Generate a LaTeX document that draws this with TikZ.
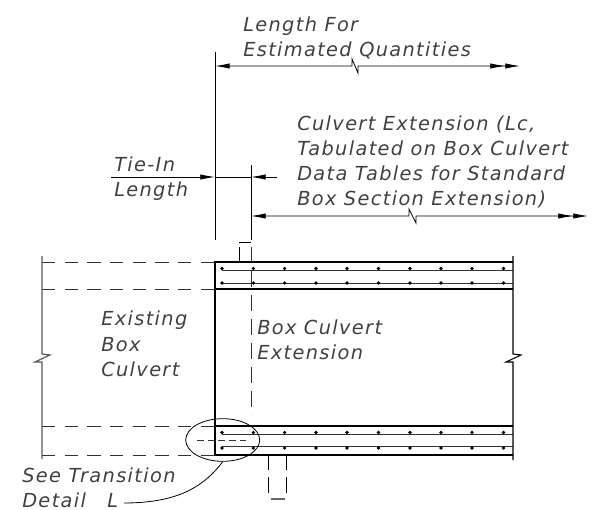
\documentclass[tikz,border=0pt]{standalone}
\usepackage{fontspec}
\setmainfont{DejaVu Sans}[LetterSpace=7,ItalicFont={DejaVu Sans Oblique}]
\usetikzlibrary{arrows.meta,shapes.geometric}
\tikzstyle{note}=[inner sep=0pt,anchor=base west,align=left,font=\fontsize{14.5}{18.7}\selectfont\itshape,text=black!75]
\tikzstyle{wall}=[line width=2pt,black]
\tikzstyle{bar}=[line width=0.6pt,black!80]
\tikzstyle{dim}=[line width=0.6pt,black]
\tikzstyle{hidden}=[line width=0.6pt,black!80,dash pattern=on 10pt off 7pt]
\tikzstyle{rebar}=[circle,fill=black,inner sep=0pt,minimum size=2.7pt]
\tikzstyle{head}=[-{Latex[length=11pt,width=4pt]}]

\begin{document}
\begin{tikzpicture}[x=0.75pt,y=-0.75pt]
	\useasboundingbox (0,0) rectangle (603,510);

	\node (quantities) at (243,32) [note] {Length For};
	\node (quantities2) at (243,57) [note] {Estimated Quantities};
	\node (extension) at (297,130) [note] {Culvert Extension (Lc,};
	\node (extension2) at (297,155) [note] {Tabulated on Box Culvert};
	\node (extension3) at (297,180) [note] {Data Tables for Standard};
	\node (extension4) at (297,205) [note] {Box Section Extension)};
	\node (tiein) at (114,171) [note] {Tie-In};
	\node (tiein2) at (114,196) [note] {Length};
	\node (existing) at (101,325) [note] {Existing};
	\node (existing2) at (101,351) [note] {Box};
	\node (existing3) at (101,376) [note] {Culvert};
	\node (newbox) at (257,334) [note] {Box Culvert};
	\node (newbox2) at (257,359) [note] {Extension};
	\node (see) at (22,482.5) [note] {See Transition};
	\node (detail) at (22,507) [note] {Detail};
	\node (detailL) at (107,507) [note] {L};

	\coordinate (a) at (215,66);
	\coordinate (b) at (505,66);
	\coordinate (c) at (251,216);
	\coordinate (d) at (573,216);

	% dimension lines
	\draw[dim] (215,52)--(215,240);
	\draw[dim] (251,165)--(251,240);
	\draw[dim,head] (b)--(358,66)--(358,73)--(352,59)--(352,66)--(a);
	\draw[dim,head] (490,66)--(b);
	\draw[dim,head] (b)--(520,66);
	\draw[dim,head] (d)--(416,216)--(416,223)--(409,209)--(409,216)--(c);
	\draw[dim,head] (558,216)--(d);
	\draw[dim,head] (d)--(588,216);
	\draw[dim,head] (111,177)--(215,177);
	\draw[dim] (215,177)--(251,177);
	\draw[dim,head] (277,177)--(251,177);

	% existing culvert
	\draw[line width=0.9pt,black!65] (42,256)--(42,354)--(50,355)--(35,362)--(42,362)--(42,459);
	\draw[hidden] (42,262)--(215,262);
	\draw[hidden] (42,289)--(215,289);
	\draw[hidden] (42,426)--(215,426);
	\draw[hidden] (42,455)--(215,455);
	\draw[hidden,dash pattern=on 12pt off 6pt] (251,247)--(251,415);
	\draw[hidden,dash pattern=on 5pt off 3pt] (197,440)--(248,440);

	% keys
	\draw[dim] (239,242)--(251,242);
	\draw[dim] (239,247)--(239,262);
	\draw[dim] (268,455)--(268,470);
	\draw[dim] (286,455)--(286,470);
	\draw[dim] (268,477)--(268,493);
	\draw[dim] (286,477)--(286,493);
	\draw[dim,black!60,line width=1pt] (271,499)--(285,499);

	% extension
	\draw[bar] (222,270)--(513,270);
	\draw[bar] (222,283)--(513,283);
	\draw[bar] (222,434)--(513,434);
	\draw[bar] (222,446)--(513,446);
	\draw[wall] (513,262)--(215,262)--(215,455)--(513,455);
	\draw[wall] (215,289)--(513,289);
	\draw[wall] (215,426)--(513,426);
	\draw[dim,line width=0.8pt] (513,256)--(513,354)--(521,355)--(506,362)--(513,362)--(513,460);
	\foreach \x in {222,253.3,284.6,316,347,378.5,410,441,472,503.5}{
		\node (r1) at (\x,268.5) [rebar] {};
		\node (r2) at (\x,283) [rebar] {};
		\node (r3) at (\x,432.5) [rebar] {};
		\node (r4) at (\x,448) [rebar] {};
	}

	% detail
	\node (circ) at (222.7,440) [draw,ellipse,line width=0.6pt,minimum width=55.5pt,minimum height=32pt,inner sep=0pt] {};
	\draw[dim] (circ.south) .. controls (205,485) and (180,503) .. (124,503);
\end{tikzpicture}
\end{document}
